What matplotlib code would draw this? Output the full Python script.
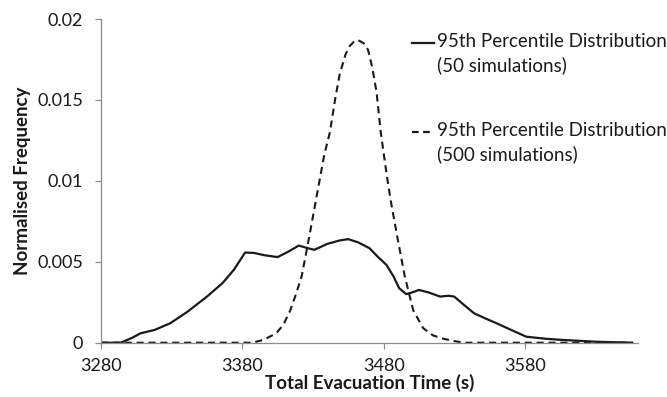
import matplotlib
matplotlib.use("Agg")
import matplotlib.pyplot as plt
from matplotlib.lines import Line2D

plt.rcParams["font.family"] = ["Lato", "DejaVu Sans"]

GRID = "#8C8C8C"
INK = "#1A1A1A"

# 95th percentile distribution, 50 simulations (solid)
t_50 = [3280, 3294, 3302, 3308, 3318, 3329, 3341, 3355, 3366, 3374, 3382,
        3388, 3396, 3405, 3412, 3420, 3426, 3431, 3440, 3449, 3455, 3462,
        3470, 3476, 3482, 3487, 3491, 3496, 3500, 3505, 3512, 3520, 3526,
        3530, 3536, 3544, 3552, 3560, 3570, 3581, 3595, 3607, 3630, 3656]
f_50 = [0, 0, 0.0003, 0.00058, 0.00079, 0.0012, 0.0019, 0.00285, 0.00368,
        0.0045, 0.00557, 0.00555, 0.0054, 0.00529, 0.0056, 0.0060, 0.00585,
        0.00574, 0.0061, 0.00632, 0.0064, 0.0062, 0.00584, 0.0053, 0.00481,
        0.0041, 0.00337, 0.0030, 0.0031, 0.00326, 0.0031, 0.00285, 0.0029,
        0.00285, 0.0024, 0.00182, 0.0015, 0.0012, 0.0008, 0.00037, 0.00024,
        0.00017, 0.00006, 0]

# 95th percentile distribution, 500 simulations (dashed)
t_500 = [3280, 3387, 3395, 3404, 3409, 3414, 3418, 3422, 3426, 3430, 3434,
         3438, 3442, 3446, 3449, 3453, 3456, 3459, 3462, 3466, 3469, 3472,
         3475, 3478, 3482, 3485, 3490, 3495, 3501, 3508, 3515, 3522, 3530,
         3537, 3656]
f_500 = [0, 0, 0.00017, 0.00058, 0.0011, 0.0020, 0.0030, 0.0041, 0.0059,
         0.0078, 0.0097, 0.0116, 0.0130, 0.0152, 0.0166, 0.0178, 0.01833,
         0.0186, 0.0187, 0.0185, 0.0181, 0.0170, 0.0155, 0.0130, 0.0105,
         0.0088, 0.0064, 0.0041, 0.0020, 0.0009, 0.00045, 0.00025, 0.0001,
         0, 0]

x_ticks = [3280, 3380, 3480, 3580]
y_ticks = [0, 0.005, 0.01, 0.015, 0.02]
y_labels = ["0", "0.005", "0.01", "0.015", "0.02"]

fig = plt.figure(figsize=(6.67, 3.97), dpi=100)
ax = fig.add_axes([0.1514, 0.1368, 0.805, 0.8152])

ax.plot(t_50, f_50, color=INK, lw=1.6, solid_joinstyle="round")
ax.plot(t_500, f_500, color=INK, lw=1.5, dashes=(3.4, 2.3))

ax.set_xlim(3280, 3660)
ax.set_ylim(0, 0.02)
ax.set_xticks(x_ticks)
ax.set_yticks(y_ticks)
ax.set_yticklabels(y_labels)
for s in ("top", "right"):
    ax.spines[s].set_visible(False)
for s in ("left", "bottom"):
    ax.spines[s].set_color(GRID)
    ax.spines[s].set_linewidth(0.9)
ax.tick_params(colors=GRID, labelcolor=INK, labelsize=13, length=4, width=0.9)
ax.tick_params(axis="x", pad=7)
ax.tick_params(axis="y", pad=9)

ax.set_xlabel("Total Evacuation Time (s)", fontsize=13.5, weight="bold",
              color=INK, labelpad=0)
ax.set_ylabel("Normalised Frequency", fontsize=13.5, weight="bold",
              color=INK, labelpad=4)

# legend (handle aligned with first text line, as in the original)
W, H = 667, 397
entries = [("-", 43, "95th Percentile Distribution\n(50 simulations)"),
           ("--", 132, "95th Percentile Distribution\n(500 simulations)")]
for ls, ypx, label in entries:
    yy = 1 - ypx / H
    ln = Line2D([412 / W, 434 / W], [yy, yy], transform=fig.transFigure,
                color=INK, lw=1.6)
    if ls == "--":
        ln.set_dashes((3.0, 2.0))
    fig.add_artist(ln)
    fig.text(437 / W, yy + 10 / H, label, ha="left", va="top", fontsize=13.5,
             color=INK, linespacing=1.4)

fig.savefig("out.png", dpi=100)
